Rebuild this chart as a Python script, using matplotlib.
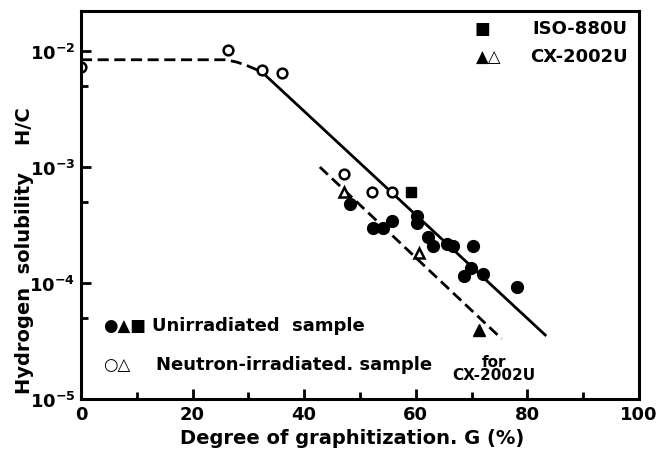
import matplotlib.pyplot as plt
import numpy as np
from matplotlib.ticker import LogLocator, MultipleLocator, NullFormatter

# open circles: neutron-irradiated samples
irr_circle_g = [0, 26.3, 32.4, 36.0, 47.1, 52.2, 55.7]
irr_circle_hc = [7.3e-3, 1.02e-2, 6.9e-3, 6.5e-3, 8.7e-4, 6.1e-4, 6.1e-4]
# open triangles: irradiated CX-2002U
irr_tri_g = [47.1, 60.6]
irr_tri_hc = [6.1e-4, 1.8e-4]
# filled circles: unirradiated samples
unirr_circle_g = [48.2, 52.4, 54.1, 55.7, 60.2, 60.2, 62.2, 63.1, 65.6, 66.7,
                  70.3, 69.9, 68.6, 72.0, 78.1]
unirr_circle_hc = [4.8e-4, 3.0e-4, 3.0e-4, 3.4e-4, 3.8e-4, 3.3e-4, 2.5e-4, 2.1e-4,
                   2.17e-4, 2.1e-4, 2.1e-4, 1.35e-4, 1.15e-4, 1.2e-4, 9.2e-5]
# filled square: unirradiated ISO-880U
unirr_sq_g = [59.1]
unirr_sq_hc = [6.1e-4]
# filled triangle: unirradiated CX-2002U
unirr_tri_g = [71.3]
unirr_tri_hc = [3.9e-5]

# fitted curves
plateau_g = [0, 26, 28, 30, 32.4]
plateau_hc = [8.4e-3, 8.4e-3, 8.0e-3, 7.4e-3, 6.6e-3]
solid_g = [32.4, 83.2]
solid_hc = [6.6e-3, 3.56e-5]
lower_g = [42.8, 75.4]
lower_hc = [1.0e-3, 3.3e-5]

plt.rcParams['font.family'] = ['DejaVu Sans']
plt.rcParams['font.weight'] = 'bold'
plt.rcParams['axes.labelweight'] = 'bold'
plt.rcParams['mathtext.default'] = 'bf'

fig = plt.figure(figsize=(6.67, 4.56), dpi=100)
ax = fig.add_axes([0.1214, 0.1228, 0.8366, 0.851])

ax.plot(plateau_g, plateau_hc, 'k--', lw=2, dashes=(4, 2))
ax.plot(solid_g, solid_hc, 'k-', lw=2)
ax.plot(lower_g, lower_hc, 'k--', lw=2, dashes=(4, 2))

ax.plot(irr_circle_g, irr_circle_hc, 'o', ms=7, mfc='white', mec='k', mew=1.8, ls='none')
ax.plot(irr_tri_g, irr_tri_hc, '^', ms=7, mfc='white', mec='k', mew=1.8, ls='none')
ax.plot(unirr_circle_g, unirr_circle_hc, 'o', ms=8.5, color='k', ls='none')
ax.plot(unirr_sq_g, unirr_sq_hc, 's', ms=7, color='k', ls='none')
ax.plot(unirr_tri_g, unirr_tri_hc, '^', ms=8.5, color='k', ls='none')

ax.set_yscale('log')
ax.set_xlim(0, 100)
ax.set_ylim(1e-5, 10 ** -1.655)
ax.set_xticks([0, 20, 40, 60, 80, 100])
ax.xaxis.set_minor_locator(MultipleLocator(10))
ax.yaxis.set_major_locator(LogLocator(base=10, numticks=10))
ax.yaxis.set_minor_locator(LogLocator(base=10, subs=[5], numticks=10))
ax.yaxis.set_minor_formatter(NullFormatter())
ax.tick_params(which='major', direction='in', length=7, width=2, labelsize=13, pad=4)
ax.tick_params(which='minor', direction='in', length=5, width=2)
for s in ax.spines.values():
    s.set_linewidth(2.2)

ax.set_xlabel('Degree of graphitization. G (%)', fontsize=14)
ax.xaxis.set_label_coords(0.486, -0.075)
ax.set_ylabel('Hydrogen  solubility    H/C', fontsize=14)
ax.yaxis.set_label_coords(-0.085, 0.385)

# legend-like annotations
ax.text(0.72, 0.955, '■', transform=ax.transAxes, fontsize=12, va='center', ha='center')
ax.text(0.98, 0.955, 'ISO-880U', transform=ax.transAxes, fontsize=13, va='center', ha='right')
ax.text(0.73, 0.885, '▲△', transform=ax.transAxes, fontsize=12, va='center', ha='center')
ax.text(0.98, 0.885, 'CX-2002U', transform=ax.transAxes, fontsize=13, va='center', ha='right')

ax.text(0.04, 0.19, '●▲■', transform=ax.transAxes, fontsize=12, va='center', ha='left')
ax.text(0.127, 0.19, 'Unirradiated  sample', transform=ax.transAxes, fontsize=13,
        va='center', ha='left')
ax.text(0.04, 0.09, '○△', transform=ax.transAxes, fontsize=12, va='center', ha='left')
ax.text(0.135, 0.09, 'Neutron-irradiated. sample', transform=ax.transAxes, fontsize=13,
        va='center', ha='left')
ax.text(0.74, 0.08, 'for\nCX-2002U', transform=ax.transAxes, fontsize=11,
        va='center', ha='center', linespacing=0.9)

fig.savefig('out.png', dpi=100)
